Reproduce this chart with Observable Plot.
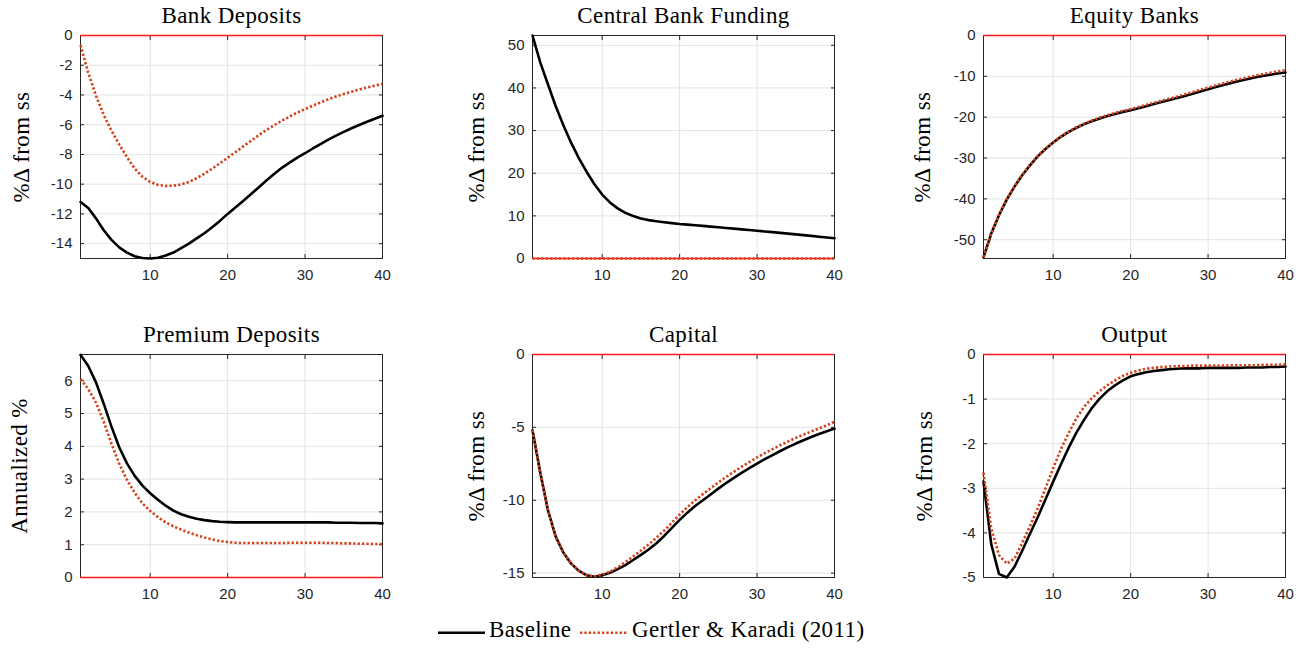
<!DOCTYPE html>
<html><head><meta charset="utf-8">
<script src="https://cdn.jsdelivr.net/npm/d3@7"></script>
<script src="https://cdn.jsdelivr.net/npm/@observablehq/plot@0.6"></script>
<style>
  html, body { margin: 0; padding: 0; background: #fff; }
  #root { position: relative; width: 1305px; height: 648px; overflow: hidden; background: #fff; }
  #root > svg { position: absolute; }
  g[font-family="Liberation Serif"] { letter-spacing: 0.4px; }
</style>
</head><body><div id="root"></div>
<script>
// ---------- data ----------
const periods = [1,2,3,4,5,6,7,8,9,10,11,12,13,14,15,16,17,18,19,20,21,22,23,24,25,26,27,28,29,30,31,32,33,34,35,36,37,38,39,40];
const seriesNames = ["Baseline", "Gertler & Karadi (2011)"];
const titles = ["Bank Deposits", "Central Bank Funding", "Equity Banks", "Premium Deposits", "Capital", "Output"];
const yLabels = ["%Δ from ss", "%Δ from ss", "%Δ from ss", "Annualized %", "%Δ from ss", "%Δ from ss"];
const xTicks = [10, 20, 30, 40];

const depositsBaseline = [-11.2,-11.6,-12.3,-13.1,-13.75,-14.25,-14.6,-14.85,-14.97,-15.0,-14.95,-14.8,-14.6,-14.3,-14.0,-13.65,-13.3,-12.9,-12.47,-12.0,-11.57,-11.13,-10.68,-10.22,-9.76,-9.32,-8.9,-8.55,-8.22,-7.92,-7.6,-7.3,-7.0,-6.73,-6.48,-6.24,-6.02,-5.8,-5.6,-5.4];
const depositsGK = [-0.65,-2.5,-4.05,-5.35,-6.4,-7.33,-8.18,-8.95,-9.5,-9.85,-10.05,-10.12,-10.1,-10.02,-9.85,-9.6,-9.3,-8.96,-8.6,-8.22,-7.85,-7.46,-7.09,-6.71,-6.36,-6.04,-5.73,-5.45,-5.18,-4.95,-4.72,-4.5,-4.29,-4.1,-3.93,-3.78,-3.63,-3.5,-3.37,-3.25];

const cbfBaseline = [52.3,46.0,40.8,35.7,31.2,27.1,23.5,20.3,17.4,15.0,13.15,11.75,10.7,9.95,9.4,9.0,8.72,8.5,8.3,8.1,7.95,7.8,7.65,7.48,7.32,7.16,7.0,6.84,6.67,6.5,6.34,6.18,6.01,5.84,5.66,5.48,5.3,5.11,4.93,4.75];
const cbfGK = [0,0,0,0,0,0,0,0,0,0,0,0,0,0,0,0,0,0,0,0,0,0,0,0,0,0,0,0,0,0,0,0,0,0,0,0,0,0,0,0];

const equityBaseline = [-54.3,-48.5,-44.0,-40.2,-37.0,-34.2,-31.8,-29.6,-27.8,-26.2,-24.8,-23.6,-22.6,-21.7,-21.0,-20.3,-19.7,-19.2,-18.7,-18.3,-17.8,-17.3,-16.8,-16.3,-15.8,-15.3,-14.8,-14.25,-13.7,-13.15,-12.62,-12.1,-11.6,-11.13,-10.7,-10.3,-9.93,-9.6,-9.3,-9.05];
const equityGK = [-54.3,-48.4,-43.9,-40.1,-36.9,-34.1,-31.7,-29.5,-27.7,-26.1,-24.7,-23.5,-22.45,-21.55,-20.8,-20.1,-19.5,-18.95,-18.45,-18.0,-17.5,-17.0,-16.5,-15.97,-15.45,-14.93,-14.4,-13.85,-13.3,-12.76,-12.22,-11.7,-11.2,-10.72,-10.27,-9.86,-9.47,-9.12,-8.8,-8.5];

const premiumBaseline = [6.79,6.45,5.95,5.3,4.6,3.97,3.48,3.1,2.8,2.57,2.37,2.19,2.04,1.93,1.85,1.79,1.75,1.72,1.7,1.69,1.68,1.68,1.68,1.68,1.68,1.68,1.68,1.68,1.68,1.68,1.68,1.68,1.68,1.67,1.67,1.67,1.66,1.66,1.66,1.65];
const premiumGK = [6.05,5.75,5.33,4.75,4.08,3.47,2.98,2.58,2.26,2.03,1.84,1.68,1.56,1.46,1.37,1.29,1.22,1.16,1.11,1.08,1.06,1.05,1.05,1.05,1.05,1.05,1.05,1.06,1.06,1.06,1.06,1.06,1.05,1.05,1.04,1.04,1.03,1.03,1.02,1.02];

const capitalBaseline = [-5.2,-8.1,-10.7,-12.5,-13.6,-14.35,-14.85,-15.15,-15.25,-15.15,-14.98,-14.72,-14.45,-14.1,-13.75,-13.38,-12.95,-12.45,-11.9,-11.35,-10.85,-10.4,-10.0,-9.6,-9.2,-8.82,-8.47,-8.12,-7.8,-7.48,-7.18,-6.9,-6.62,-6.36,-6.11,-5.88,-5.66,-5.46,-5.26,-5.08];
const capitalGK = [-5.2,-8.1,-10.7,-12.5,-13.6,-14.35,-14.85,-15.15,-15.22,-15.1,-14.9,-14.6,-14.25,-13.85,-13.45,-13.03,-12.58,-12.08,-11.54,-10.98,-10.47,-10.01,-9.58,-9.18,-8.78,-8.4,-8.05,-7.7,-7.38,-7.06,-6.77,-6.49,-6.22,-5.97,-5.72,-5.5,-5.28,-5.07,-4.86,-4.62];

const outputBaseline = [-2.85,-4.25,-4.92,-5.0,-4.76,-4.4,-4.02,-3.65,-3.25,-2.85,-2.46,-2.09,-1.75,-1.46,-1.2,-0.99,-0.82,-0.69,-0.58,-0.49,-0.44,-0.4,-0.37,-0.35,-0.33,-0.32,-0.31,-0.31,-0.31,-0.3,-0.3,-0.3,-0.3,-0.3,-0.29,-0.29,-0.29,-0.28,-0.28,-0.27];
const outputGK = [-2.65,-3.9,-4.5,-4.69,-4.58,-4.22,-3.85,-3.45,-3.0,-2.55,-2.12,-1.76,-1.43,-1.17,-0.98,-0.82,-0.69,-0.58,-0.48,-0.41,-0.36,-0.32,-0.3,-0.28,-0.27,-0.26,-0.26,-0.25,-0.25,-0.25,-0.25,-0.25,-0.24,-0.24,-0.24,-0.24,-0.23,-0.23,-0.23,-0.22];

const yDomains = [[-15, 0], [0, 52.3], [-54.6, 0], [0, 6.8], [-15.3, 0], [-5, 0]];
const yTickValues = [
  [-14,-12,-10,-8,-6,-4,-2,0],
  [0,10,20,30,40,50],
  [-50,-40,-30,-20,-10,0],
  [0,1,2,3,4,5,6],
  [-15,-10,-5,0],
  [-5,-4,-3,-2,-1,0]
];
const baselineSeries = [depositsBaseline, cbfBaseline, equityBaseline, premiumBaseline, capitalBaseline, outputBaseline];
const gkSeries = [depositsGK, cbfGK, equityGK, premiumGK, capitalGK, outputGK];

// ---------- style / layout ----------
const SERIF = "Liberation Serif";
const SANS = "Liberation Sans";
const AXIS = "#262626";
const GRID = "#e3e3e3";
const BLACK = "#000000";
const GKCOL = "#d6401a";
const ZERO = "#ff1a1a";
const DOTS = "2.3,2.1";
const panelLeft = [0, 451.7, 903.3];
const panelTop = [0, 319];
const yLabelDx = [-59, -56, -60.5, -60.5, -56, -59];

const root = d3.select("#root");

function makePanel(i) {
  const col = i % 3, row = Math.floor(i / 3);
  const base = periods.map((t, k) => ({t, v: baselineSeries[i][k]}));
  const gk = periods.map((t, k) => ({t, v: gkSeries[i][k]}));
  const yt = yTickValues[i];
  const svg = Plot.plot({
    width: 401, height: 290,
    marginLeft: 80, marginRight: 19, marginTop: 35, marginBottom: 32,
    x: {domain: [1, 40]},
    y: {domain: yDomains[i]},
    style: {background: "transparent", overflow: "visible", fontFamily: SANS},
    marks: [
      Plot.gridX(xTicks, {stroke: GRID, strokeOpacity: 1, strokeWidth: 1}),
      Plot.gridY(yt, {stroke: GRID, strokeOpacity: 1, strokeWidth: 1}),
      Plot.frame({stroke: AXIS, strokeWidth: 1}),
      Plot.axisX(xTicks, {anchor: "bottom", tickSize: 0, tickPadding: 11, fontSize: 15, fill: AXIS, label: null, tickFormat: d => String(d)}),
      Plot.axisX(xTicks, {anchor: "bottom", tickSize: 4, dy: -4, fill: "none", stroke: AXIS, label: null}),
      Plot.axisX(xTicks, {anchor: "top", tickSize: 4, dy: 4, fill: "none", stroke: AXIS, label: null}),
      Plot.axisY(yt, {anchor: "left", tickSize: 0, tickPadding: 8, fontSize: 15, fill: AXIS, label: null, tickFormat: d => String(d)}),
      Plot.axisY(yt, {anchor: "left", tickSize: 4, dx: 4, fill: "none", stroke: AXIS, label: null}),
      Plot.axisY(yt, {anchor: "right", tickSize: 4, dx: -4, fill: "none", stroke: AXIS, label: null}),
      Plot.ruleY([0], {stroke: ZERO, strokeWidth: 1.3}),
      Plot.line(base, {x: "t", y: "v", stroke: BLACK, strokeWidth: 2.6}),
      Plot.line(gk, {x: "t", y: "v", stroke: GKCOL, strokeWidth: 2.6, strokeDasharray: DOTS, strokeLinecap: "butt", strokeLinejoin: "miter"}),
      Plot.text([titles[i]], {text: d => d, frameAnchor: "top", lineAnchor: "middle", textAnchor: "middle", dy: -19.7, fontSize: 23, fontFamily: SERIF, fill: BLACK}),
      Plot.text([yLabels[i]], {text: d => d, frameAnchor: "left", lineAnchor: "middle", textAnchor: "middle", dx: yLabelDx[i], rotate: -90, fontSize: 23, fontFamily: SERIF, fill: BLACK})
    ]
  });
  svg.style.left = panelLeft[col] + "px";
  svg.style.top = panelTop[row] + "px";
  root.node().appendChild(svg);
}

for (let i = 0; i < 6; i++) makePanel(i);

// ---------- legend ----------
const lg = root.append("svg")
  .attr("width", 1305).attr("height", 30)
  .style("left", "0px").style("top", "618px");
lg.append("line").attr("x1", 438).attr("x2", 485).attr("y1", 14.7).attr("y2", 14.7)
  .attr("stroke", BLACK).attr("stroke-width", 2.6);
lg.append("text").attr("x", 489).attr("y", 19.3).attr("font-family", SERIF).attr("font-size", 23)
  .style("letter-spacing", "0.4px").text(seriesNames[0]);
lg.append("line").attr("x1", 580).attr("x2", 627).attr("y1", 14.7).attr("y2", 14.7)
  .attr("stroke", GKCOL).attr("stroke-width", 2.6).attr("stroke-dasharray", DOTS);
lg.append("text").attr("x", 632).attr("y", 19.3).attr("font-family", SERIF).attr("font-size", 23)
  .style("letter-spacing", "0.4px").text(seriesNames[1]);
</script>
</body></html>
